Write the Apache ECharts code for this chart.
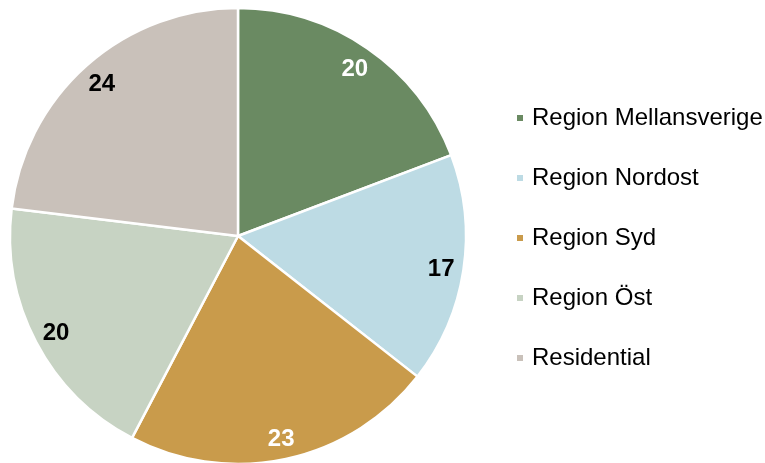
<!DOCTYPE html>
<html>
<head>
<meta charset="utf-8">
<script src="https://cdn.jsdelivr.net/npm/echarts@6/dist/echarts.min.js"></script>
<style>
html, body { margin: 0; padding: 0; background: #fff; }
#chart { width: 765px; height: 463px; }
</style>
</head>
<body>
<div id="chart"></div>
<script>
var regions = ['Region Mellansverige', 'Region Nordost', 'Region Syd', 'Region Öst', 'Residential'];
var values = [20, 17, 23, 20, 24];
var colors = ['#6a8a62', '#bddbe4', '#c99b4b', '#c7d3c3', '#c9c1ba'];
var labelColors = ['#fff', '#000', '#fff', '#000', '#000'];

var myChart = echarts.init(document.getElementById('chart'));

var pieData = regions.map(function (name, i) {
    return { name: name, value: values[i], itemStyle: { color: colors[i] } };
});
var labelData = regions.map(function (name, i) {
    return { name: name, value: values[i], label: { color: labelColors[i] } };
});

var option = {
    animation: false,
    legend: {
        orient: 'vertical',
        left: 510,
        top: 101,
        itemWidth: 8,
        itemHeight: 8,
        itemGap: 36,
        icon: 'rect',
        data: regions,
        textStyle: {
            fontFamily: 'Liberation Sans, Arial',
            fontSize: 24,
            lineHeight: 24,
            color: '#000',
            padding: [0, 0, 0, 3]
        }
    },
    series: [
        {
            type: 'pie',
            center: [238, 236],
            radius: [0, 228],
            startAngle: 90,
            clockwise: true,
            silent: true,
            label: { show: false },
            labelLine: { show: false },
            itemStyle: { borderColor: '#fff', borderWidth: 2.5 },
            data: pieData
        },
        {
            // transparent ring only to put the value labels near the rim
            type: 'pie',
            center: [238, 236],
            radius: [177, 228],
            startAngle: 90,
            clockwise: true,
            silent: true,
            legendHoverLink: false,
            itemStyle: { color: 'transparent' },
            label: {
                show: true,
                position: 'inside',
                formatter: '{c}',
                offset: [0, 2],
                fontFamily: 'Liberation Sans, Arial',
                fontWeight: 'bold',
                fontSize: 24
            },
            labelLine: { show: false },
            data: labelData
        }
    ]
};

myChart.setOption(option);
</script>
</body>
</html>
